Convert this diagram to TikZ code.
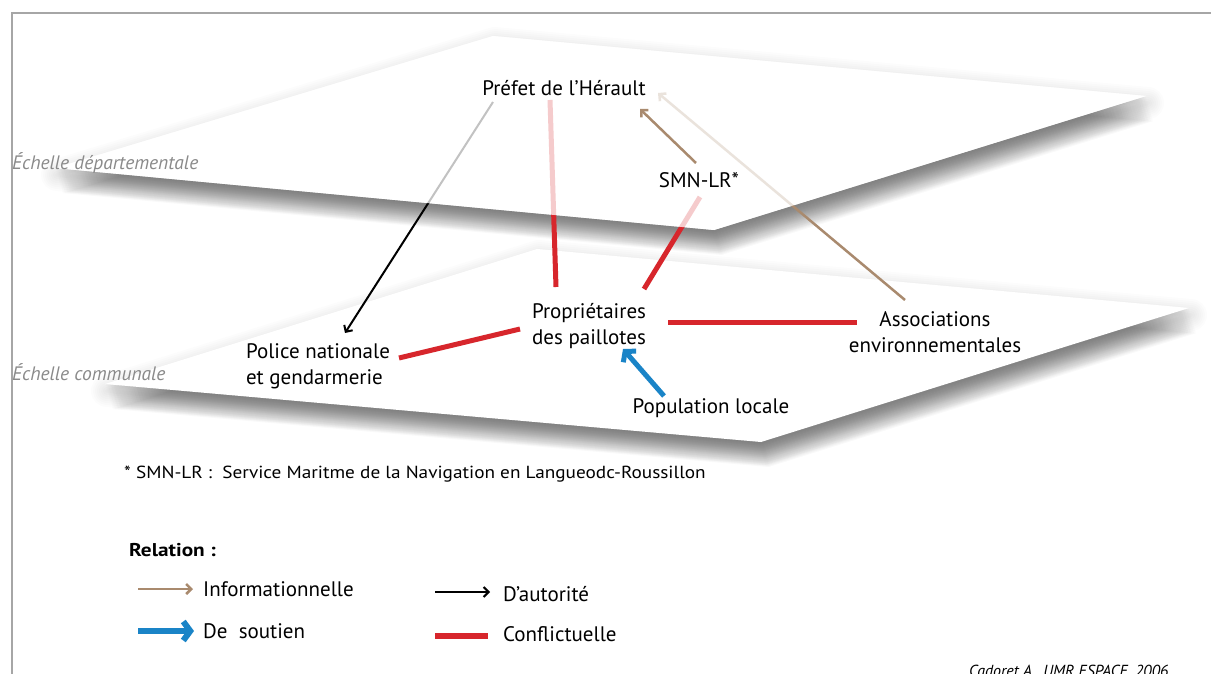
\documentclass[tikz,border=0pt]{standalone}
\usepackage{fontspec}
\usepackage{graphicx}
\setmainfont{PT Sans}
\usetikzlibrary{arrows.meta}

\definecolor{infobrown}{HTML}{A98A6E}
\definecolor{confred}{HTML}{D7262C}
\definecolor{supblue}{HTML}{1A84C7}
\definecolor{framegray}{HTML}{A6A6A6}
\definecolor{scalegray}{HTML}{8A8A8A}

\pgfdeclarelayer{planes}
\pgfdeclarelayer{links}
\pgfdeclarelayer{veil}
\pgfsetlayers{planes,links,veil,main}

\newcommand\myplaneshadow[1]{%
  \foreach \k in {1,...,25}{%
    \fill[black, opacity=0.022, shift={(0.3*\k,\k)}] #1;
  }%
  \foreach \w in {4,8,...,32}{%
    \draw[black, opacity=0.012, line width=\w pt, line join=round, shift={(2,7)}] #1;
  }%
}

\begin{document}
\begin{tikzpicture}[x=1pt,y=-1pt,
  planefill/.style={fill=white, draw=none},
  lbl/.style={font=\fontsize{21}{26}\selectfont, inner sep=0pt, align=center},
  leglbl/.style={font=\fontsize{21}{26}\selectfont, inner sep=0pt, anchor=west},
  scalelbl/.style={font=\itshape\fontsize{19.5}{22}\selectfont, text=scalegray, anchor=west, inner sep=0pt},
  info/.style={draw=infobrown, line width=2.5pt, -{Straight Barb[length=5pt,width=10pt]}},
  auth/.style={draw=black, line width=2pt, -{Straight Barb[length=5pt,width=10pt]}},
  conf/.style={draw=confred, line width=5pt},
  supp/.style={draw=supblue, line width=5pt, -{Straight Barb[length=7pt,width=17pt]}},
]
\useasboundingbox (0,0) rectangle (1211,674);

% ---------- labels ----------
\node[lbl] (prefet) at (564,88) {Préfet de l'Hérault};
\node[lbl] (smn) at (699,180) {SMN-LR*};
\node[lbl] (prop) at (589,326) {Propriétaires\\des paillotes};
\node[lbl, align=left] (police) at (318,366) {Police nationale\\et gendarmerie};
\node[lbl] (assoc) at (935,332) {Associations\\environnementales};
\node[lbl] (pop) at (711,408) {Population locale};

\node[scalelbl] (sdep) at (12,163) {Échelle départementale};
\node[scalelbl] (scom) at (12,372) {Échelle communale};

\node[anchor=west, inner sep=0pt, font=\fontsize{17.5}{20}\selectfont] (note) at (124,474)
  {\scalebox{1.1}[1]{* SMN-LR :\ \ Service Maritme de la Navigation en Langueodc-Roussillon}};

\node[anchor=west, inner sep=0pt, font=\bfseries\fontsize{18.5}{20}\selectfont] (rel) at (129,550)
  {\scalebox{1.15}[1]{Relation :}};
\node[leglbl] (linfo) at (203,589) {Informationnelle};
\node[leglbl] (lsupp) at (203,631) {De\ \ soutien};
\node[leglbl] (lauth) at (503,594) {D'autorité};
\node[leglbl] (lconf) at (503,634) {Conflictuelle};

\node[anchor=base west, inner sep=0pt, font=\itshape\fontsize{16}{18}\selectfont] (credit) at (969,676)
  {Cadoret A., UMR ESPACE, 2006};

% SMN -> Prefet (on top of the upper plane)
\draw[info] ([shift={(-3,-17)}]smn.center) -- ([shift={(76,21)}]prefet.center);

% ---------- planes ----------
\begin{pgfonlayer}{planes}
\draw[framegray, line width=2.2pt] (12,700) -- (12,13) -- (1230,13);
\myplaneshadow{(105,384) -- (537,249) -- (1189,308) -- (761,442) -- cycle}
\path[planefill] (105,384) -- (537,249) -- (1189,308) -- (761,442) -- cycle;
\myplaneshadow{(55,168) -- (493,36) -- (1146,96) -- (714,230) -- cycle}
\path[planefill] (55,168) -- (493,36) -- (1146,96) -- (714,230) -- cycle;
\end{pgfonlayer}

% ---------- links ----------
\begin{pgfonlayer}{links}
\draw[auth] ([shift={(-71,14)}]prefet.center) -- ([shift={(27,-33)}]police.center);
\draw[conf] ([shift={(-14,12)}]prefet.center) -- ([shift={(-33,-39)}]prop.center);
\draw[conf] ([shift={(1,17)}]smn.center) -- ([shift={(55,-37)}]prop.center);
\draw[info] ([shift={(-30,-32)}]assoc.center) -- ([shift={(94,5)}]prefet.center);
\draw[conf] ([shift={(79,-4)}]prop.center) -- ([shift={(-78,-10)}]assoc.center);
\draw[conf] ([shift={(-69,3)}]prop.center) -- ([shift={(81,-8)}]police.center);
\draw[supp] ([shift={(-47,-12)}]pop.center) -- ([shift={(34,23)}]prop.center);

% legend symbols
\draw[info] ([shift={(-65,0)}]linfo.west) -- ([shift={(-10,0)}]linfo.west);
\draw[supp, line width=6pt, -{Straight Barb[length=7pt,width=19pt]}] ([shift={(-65,0)}]lsupp.west) -- ([shift={(-9,0)}]lsupp.west);
\draw[auth] ([shift={(-68,-2)}]lauth.west) -- ([shift={(-13,-2)}]lauth.west);
\draw[conf, line width=6pt] ([shift={(-68,2)}]lconf.west) -- ([shift={(-15,2)}]lconf.west);
\end{pgfonlayer}

% ---------- veil of the upper plane ----------
\begin{pgfonlayer}{veil}
\fill[white, opacity=0.76] (55,168) -- (493,36) -- (1146,96) -- (714,230) -- cycle;
\end{pgfonlayer}
\end{tikzpicture}
\end{document}
